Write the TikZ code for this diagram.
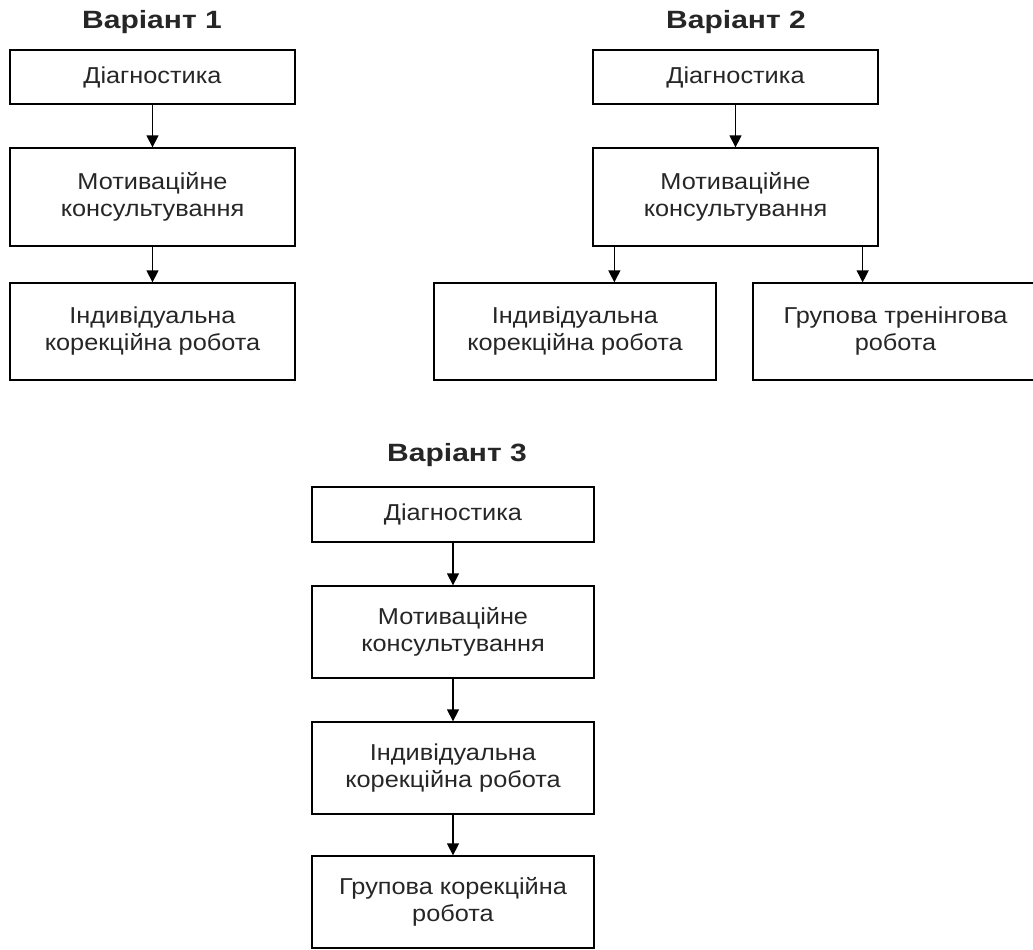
\documentclass[tikz,border=0pt]{standalone}
\usepackage{fontspec}
\setmainfont[FakeStretch=1.1]{Liberation Sans}
\newfontfamily\titlefont[FakeStretch=1.2]{Liberation Sans}
\usetikzlibrary{arrows.meta, positioning}

\tikzset{
  box/.style={draw, line width=1.3pt, minimum width=285pt, inner sep=0pt, align=center,
    text=black!85, font=\fontsize{23}{27}\selectfont},
  vartitle/.style={anchor=base, text=black!85, font=\titlefont\bfseries\fontsize{25}{28}\selectfont},
  arr/.style={line width=1.3pt, -{Triangle[length=12pt, width=12pt]}}
}

\begin{document}
\begin{tikzpicture}[x=1pt, y=-1pt]
  \useasboundingbox (0,0) rectangle (1033,950);

  % variant 1
  \node[vartitle] (t1) at (152,29) {Варіант 1};
  \node[box, minimum height=54pt] (d1) at (152.5,77) {Діагностика};
  \node[box, minimum height=98pt] (m1) at (152.5,197) {Мотиваційне\\консультування};
  \node[box, minimum height=97pt] (i1) at (152.5,331.5) {Індивідуальна\\корекційна робота};
  \draw[arr] (d1) -- (m1);
  \draw[arr] (m1) -- (i1);

  % variant 2
  \node[vartitle] (t2) at (736,29) {Варіант 2};
  \node[box, minimum height=54pt] (d2) at (735.5,77) {Діагностика};
  \node[box, minimum height=98pt] (m2) at (735.5,197) {Мотиваційне\\консультування};
  \node[box, minimum height=97pt, minimum width=282pt] (i2) at (575,331.5) {Індивідуальна\\корекційна робота};
  \node[box, minimum height=97pt] (g2) at (895.5,331.5) {Групова тренінгова\\робота};
  \draw[arr] (d2) -- (m2);
  \draw[arr] ([xshift=22pt]m2.south west) -- ([xshift=22pt]m2.south west |- i2.north);
  \draw[arr] ([xshift=-16pt]m2.south east) -- ([xshift=-16pt]m2.south east |- g2.north);

  % variant 3
  \node[vartitle] (t3) at (457,461) {Варіант 3};
  \node[box, minimum height=55pt, minimum width=282pt] (d3) at (453,514.5) {Діагностика};
  \node[box, minimum height=92pt, minimum width=282pt] (m3) at (453,632) {Мотиваційне\\консультування};
  \node[box, minimum height=92pt, minimum width=282pt] (i3) at (453,768) {Індивідуальна\\корекційна робота};
  \node[box, minimum height=92pt, minimum width=282pt] (g3) at (453,902) {Групова корекційна\\робота};
  \draw[arr] (d3) -- (m3);
  \draw[arr] (m3) -- (i3);
  \draw[arr] (i3) -- (g3);
\end{tikzpicture}
\end{document}
